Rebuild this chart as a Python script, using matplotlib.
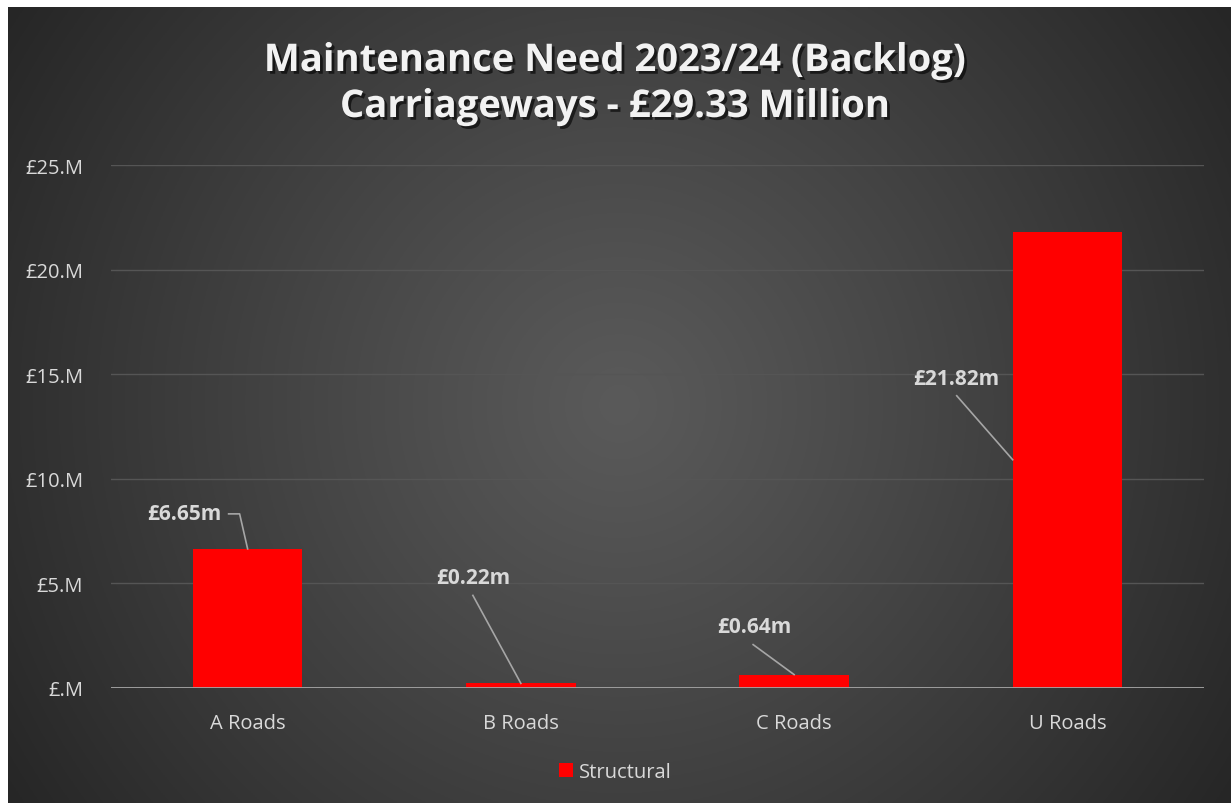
import numpy as np
import matplotlib.pyplot as plt
import matplotlib.patheffects as pe
from matplotlib.lines import Line2D

# data
categories = ['A Roads', 'B Roads', 'C Roads', 'U Roads']
structural = [6.65, 0.22, 0.64, 21.82]
value_labels = ['£6.65m', '£0.22m', '£0.64m', '£21.82m']
y_ticks = [0, 5, 10, 15, 20, 25]
y_tick_labels = ['£.M', '£5.M', '£10.M', '£15.M', '£20.M', '£25.M']
title_lines = ['Maintenance Need 2023/24 (Backlog)', 'Carriageways - £29.33 Million']

W, H = 1231, 804
plt.rcParams['font.family'] = ['Open Sans', 'DejaVu Sans']
fig = plt.figure(figsize=(W / 100, H / 100), dpi=100, facecolor='white')

# radial gradient background
bg = fig.add_axes([8 / W, 0, 1 - 8 / W, 1 - 8 / H])
bg.set_axis_off()
yy, xx = np.mgrid[0:1:400j, 0:1:600j]
r = np.sqrt((xx - 0.5) ** 2 + ((yy - 0.5) * 0.65) ** 2) / np.sqrt(0.25 + 0.25 * 0.65 ** 2)
shade = (0x5a - (0x5a - 0x26) * np.clip(r, 0, 1) ** 1.1) / 255
bg.imshow(np.dstack([shade, shade, shade]), aspect='auto', extent=[0, 1, 0, 1])
bg.set_xlim(0, 1)
bg.set_ylim(0, 1)

ax = fig.add_axes([111 / W, (H - 689) / H, (1204 - 111) / W, (689 - 166) / H])
ax.set_facecolor('none')
x = np.arange(len(categories))
bw = 0.4
ax.bar(x, structural, width=bw, color='#ff0000', zorder=3, label='Structural')

ax.set_xlim(-0.5, len(categories) - 0.5)
ax.set_ylim(0, 25)
ax.set_yticks(y_ticks)
ax.set_yticklabels(y_tick_labels)
ax.set_xticks(x)
ax.set_xticklabels(categories)
ax.tick_params(axis='both', length=0, colors='#d9d9d9', labelsize=14.5)
ax.tick_params(axis='y', pad=20)
ax.tick_params(axis='x', pad=18)
ax.grid(axis='y', color='#555555', linewidth=1, zorder=0)
for s in ['top', 'right', 'left', 'bottom']:
    ax.spines[s].set_visible(False)
ax.axhline(0, color='#a6a6a6', linewidth=2, zorder=4)

# data labels with leader lines (offsets in pixels from the anchor point)
anchors = [(x[0], structural[0]), (x[1], structural[1]), (x[2], structural[2]),
           (x[3] - bw / 2, structural[3] / 2)]
leaders = [[(-19, 35), (-8, 35), (0, 0)],
           [(-48, 88), (0, 0)],
           [(-41, 30), (0, 0)],
           [(-56, 64), (0, 0)]]
text_off = [(-63, 35), (-48, 106), (-40, 48), (-57, 81)]
for (axx, axy), pts, (tx, ty), lab in zip(anchors, leaders, text_off, value_labels):
    disp = ax.transData.transform((axx, axy))
    line = Line2D([disp[0] + p[0] for p in pts], [disp[1] + p[1] for p in pts],
                  transform=None, color='#a6a6a6', linewidth=1.2, zorder=5)
    fig.add_artist(line)
    ax.annotate(lab, xy=(axx, axy), xytext=(tx, ty), textcoords='offset pixels',
                ha='center', va='center', fontsize=15, fontweight='bold', color='#d9d9d9')

shadow = [pe.withSimplePatchShadow(offset=(2, -2), shadow_rgbFace='black', alpha=0.6)]
for line_txt, ypx in zip(title_lines, [62, 108]):
    fig.text(0.5, (H - ypx) / H, line_txt, ha='center', va='center', fontsize=27.5,
             fontweight='bold', color='#f2f2f2', path_effects=shadow)

leg = fig.legend(loc='center', bbox_to_anchor=(0.5, (H - 773) / H), frameon=False,
                 handlelength=0.7, handleheight=0.7, handletextpad=0.3, fontsize=14.5)
for t in leg.get_texts():
    t.set_color('#d9d9d9')

fig.savefig('out.png', dpi=100, facecolor='white')
